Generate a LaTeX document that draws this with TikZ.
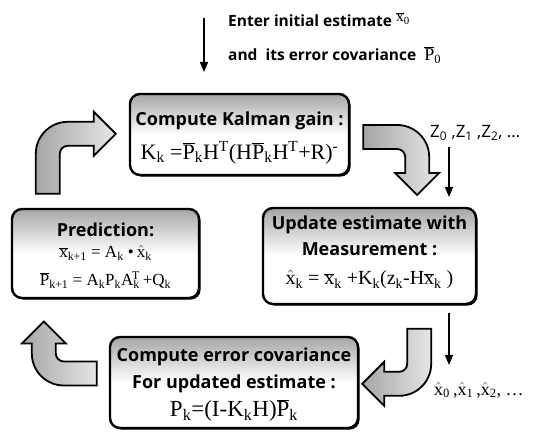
\documentclass[tikz,border=0pt]{standalone}
\usepackage{fontspec}
\setmainfont{Liberation Serif}
\newfontfamily\labelfont{Open Sans}
\usetikzlibrary{arrows.meta,shadows,calc,positioning}

\newcommand{\ovl}[1]{$\overline{\mbox{#1}}$}
\newcommand{\hatx}[1]{$\hat{\mbox{#1}}$}
\newcommand{\sbs}[1]{\textsubscript{#1}}
\newcommand{\sps}[1]{\textsuperscript{#1}}

\tikzset{
  stepbox/.style={draw, line width=2.4pt, rounded corners=10pt,
    top color=gray!70, bottom color=white, middle color=white,
    drop shadow={shadow xshift=1.6pt, shadow yshift=-1.6pt, fill=black, opacity=1},
    inner sep=0pt},
  boxtitle/.style={font=\labelfont\bfseries\fontsize{18}{20}\selectfont, inner sep=0pt},
  toptext/.style={font=\labelfont\bfseries\fontsize{15.5}{18}\selectfont, inner sep=0pt},
  thinarrow/.style={line width=1.6pt, -{Triangle[length=10pt,width=8pt]}},
  bentfill/.style={draw, line width=1.8pt, left color=gray!70, right color=gray!20},
  pics/bentarrow/.style 2 args={code={
    \path[bentfill] (0,0) -- (0,#1) arc[start angle=180,end angle=90,radius=32]
      -- ++(#2,0) -- ++(0,10) -- ++(22,-22) -- ++(-22,-22) -- ++(0,10)
      -- (32,#1+8) arc[start angle=90,end angle=180,radius=8] -- (24,0) -- cycle;
  }}
}

\begin{document}
\begin{tikzpicture}[x=1pt,y=1pt]
\useasboundingbox (0,0) rectangle (544,434);

%% initial estimate
\coordinate (in0) at (204,416);
\coordinate (in1) at (204,362);
\draw[thinarrow] (in0) -- (in1);
\node[toptext, anchor=west] (enter) at (228,414) {Enter initial estimate {\rmfamily\mdseries\raisebox{5pt}{\ovl{x}\sbs{0}}}};
\node[toptext, anchor=west] (cov) at (228,379) {and\ \ its error covariance\ \ {\rmfamily\mdseries\fontsize{18}{20}\selectfont\ovl{P}\sbs{0}}};

%% the four steps
\node[stepbox, minimum width=219pt, minimum height=81pt] (gain) at (239.5,299.5) {};
\node[boxtitle] (gaint) at ($(gain.north)+(0,-28)$) {Compute Kalman gain :};
\node[font=\fontsize{22}{24}\selectfont, inner sep=0pt] (gainf) at ($(gain.north)+(0,-60)$)
  {K\sbs{k} =\ovl{P}\sbs{k}H\sps{T}(H\ovl{P}\sbs{k}H\sps{T}+R)\sps{-}};

\node[stepbox, minimum width=213pt, minimum height=96pt] (upd) at (369.5,178) {};
\node[boxtitle] (updt) at ($(upd.north)+(0,-18)$) {Update estimate with};
\node[boxtitle] (updm) at ($(upd.north)+(0,-42)$) {Measurement :};
\node[font=\fontsize{20}{22}\selectfont, inner sep=0pt] (updf) at ($(upd.north)+(0,-73)$)
  {\hatx{x}\sbs{k} = \ovl{x}\sbs{k} +K\sbs{k}(z\sbs{k}-H\ovl{x}\sbs{k} )};

\node[stepbox, minimum width=187pt, minimum height=89pt] (pred) at (105.5,180.5) {};
\node[boxtitle] (predt) at ($(pred.north)+(0,-22)$) {Prediction:};
\node[font=\fontsize{17}{19}\selectfont, inner sep=0pt] (predx) at ($(pred.north)+(0,-45)$)
  {\ovl{x}\sbs{k+1} = A\sbs{k} \textbullet\,\hatx{x}\sbs{k}};
\node[font=\fontsize{17}{19}\selectfont, inner sep=0pt] (predp) at ($(pred.north)+(0,-72)$)
  {\ovl{P}\sbs{k+1} = A\sbs{k}P\sbs{k}A\sbs{k}\kern-0.45em\sps{T}\,+Q\sbs{k}};

\node[stepbox, minimum width=248pt, minimum height=91pt] (err) at (234,51.5) {};
\node[boxtitle] (errt) at ($(err.north)+(0,-21)$) {Compute error covariance};
\node[boxtitle] (erru) at ($(err.north)+(0,-48)$) {For updated estimate :};
\node[font=\fontsize{23}{25}\selectfont, inner sep=0pt] (errf) at ($(err.north)+(0,-75)$)
  {P\sbs{k}=(I-K\sbs{k}H)\ovl{P}\sbs{k}};

%% cycle arrows
\pic[rotate=0] at ($(pred.north west)+(25,14)$) {bentarrow={40}{26}};
\pic[rotate=-90] at ($(gain.east)+(13,9.5)$) {bentarrow={34}{16}};
\pic[rotate=180] at ($(err.north east)+(72,7)$) {bentarrow={35}{15}};
\pic[rotate=90] at ($(err.west)+(-12,-3)$) {bentarrow={33}{10}};

%% measurements and estimates
\node[font=\labelfont\fontsize{17}{19}\selectfont, anchor=west, inner sep=0pt] (meas) at (430,301)
  {Z\sbs{0} ,Z\sbs{1} ,Z\sbs{2}, \dots};
\coordinate (m0) at (449,287);
\coordinate (m1) at (449,237);
\draw[thinarrow] (m0) -- (m1);
\coordinate (e0) at (449,121);
\coordinate (e1) at (449,69);
\draw[thinarrow] (e0) -- (e1);
\node[font=\fontsize{18}{20}\selectfont, anchor=west, inner sep=0pt] (est) at (434,44)
  {\hatx{x}\sbs{0}\,,\hatx{x}\sbs{1}\,,\hatx{x}\sbs{2}, \dots};
\end{tikzpicture}
\end{document}
